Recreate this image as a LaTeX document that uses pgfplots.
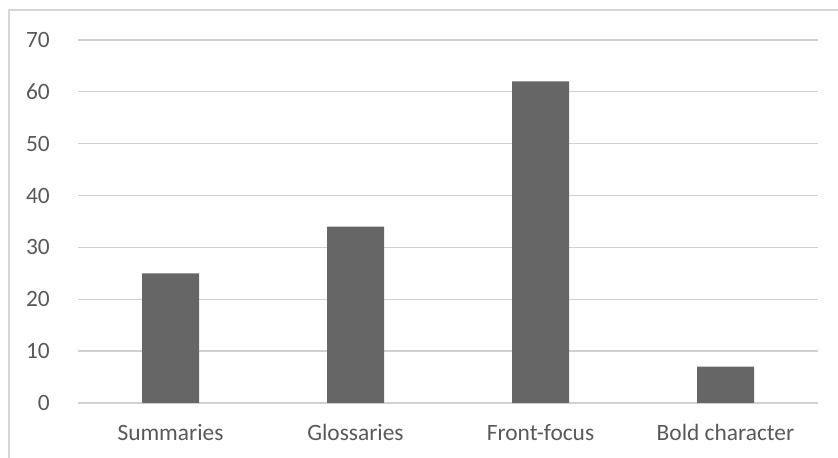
\documentclass[border=0pt]{standalone}
\usepackage{pgfplots}
\pgfplotsset{compat=1.18}
\usepackage{fontspec}
\setmainfont{Carlito}
\definecolor{barc}{HTML}{666666}
\definecolor{txt}{HTML}{595959}
\definecolor{gridc}{HTML}{D0D0D0}
\definecolor{borderc}{HTML}{D6D6D6}
\begin{document}
\begin{tikzpicture}[x=1bp,y=1bp]
\useasboundingbox (0,0) rectangle (838,458);
\draw[borderc, line width=1.5bp] (9,0) -- (9,448) -- (840,448);
\begin{axis}[
  at={(78bp,55bp)}, anchor=south west,
  scale only axis, width=740bp, height=363bp,
  xmin=-0.5, xmax=3.5, ymin=0, ymax=70,
  xtick={0,1,2,3},
  xticklabels={Summaries,Glossaries,Front-focus,Bold character},
  ytick={0,10,...,70},
  axis line style={draw=none},
  major tick length=0pt,
  ymajorgrids,
  grid style={gridc, line width=1.3bp},
  /pgf/number format/assume math mode=true,
  tick label style={font=\fontsize{23.4bp}{28bp}\selectfont, text=txt},
  xticklabel style={anchor=base, inner sep=0pt, yshift=-38bp},
  yticklabel style={anchor=east, inner sep=0pt, xshift=-28bp},
  clip=false,
]
\addplot[ybar, bar width=57bp, fill=barc, draw=none] coordinates {(0,25) (1,34) (2,62) (3,7)};
\end{axis}
\end{tikzpicture}
\end{document}
